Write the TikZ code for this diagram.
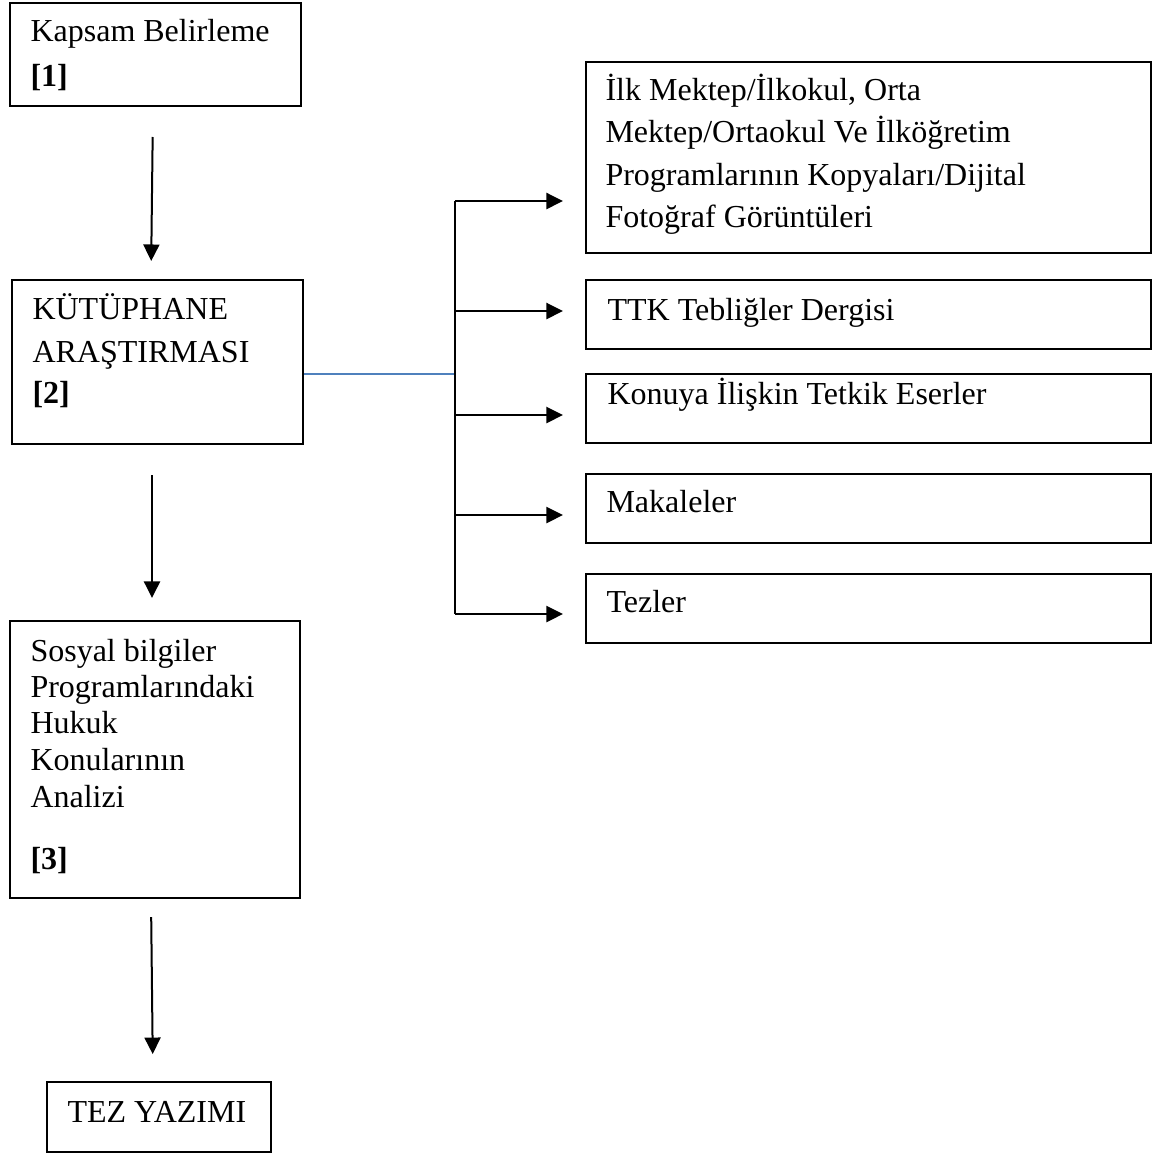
\documentclass[tikz,border=0pt]{standalone}
\usepackage{fontspec}
\setmainfont{Liberation Serif}
\usetikzlibrary{arrows.meta}
\definecolor{linkblue}{RGB}{79,129,189}
\begin{document}
\begin{tikzpicture}[x=0.375pt,y=-0.375pt,
  box/.style={draw,line width=0.75pt,rectangle,inner sep=0pt,anchor=north west},
  txt/.style={inner sep=0pt,anchor=base west,font=\fontsize{12}{14}\selectfont},
  arr/.style={draw,line width=0.75pt,-{Triangle[length=6.2pt,width=6pt]}},
  bus/.style={draw,line width=0.75pt},
  bluel/.style={draw,linkblue,line width=0.55pt}]
\useasboundingbox (0,0) rectangle (1157,1153);
% left column boxes
\node[box,minimum width=291*0.375pt,minimum height=103*0.375pt] (b1) at (9,2) {};
\node[box,minimum width=291*0.375pt,minimum height=164*0.375pt] (b2) at (11,279) {};
\node[box,minimum width=290*0.375pt,minimum height=277*0.375pt] (b3) at (9,620) {};
\node[box,minimum width=224*0.375pt,minimum height=70*0.375pt] (b4) at (46,1081) {};
% right column boxes
\node[box,minimum width=565*0.375pt,minimum height=191*0.375pt] (bA) at (585,61) {};
\node[box,minimum width=565*0.375pt,minimum height=69*0.375pt] (bB) at (585,279) {};
\node[box,minimum width=565*0.375pt,minimum height=69*0.375pt] (bC) at (585,373) {};
\node[box,minimum width=565*0.375pt,minimum height=69*0.375pt] (bD) at (585,473) {};
\node[box,minimum width=565*0.375pt,minimum height=69*0.375pt] (bE) at (585,573) {};
% texts
\node[txt] (t1a) at (30,42) {Kapsam Belirleme};
\node[txt] (t1b) at (30,86) {\textbf{[1]}};
\node[txt] (t2a) at (32,319) {KÜTÜPHANE};
\node[txt] (t2b) at (32,362) {ARAŞTIRMASI};
\node[txt] (t2c) at (32,403) {\textbf{[2]}};
\node[txt] (t3a) at (30,661) {Sosyal bilgiler};
\node[txt] (t3b) at (30,697) {Programlarındaki};
\node[txt] (t3c) at (30,733) {Hukuk};
\node[txt] (t3d) at (30,770) {Konularının};
\node[txt] (t3e) at (30,807) {Analizi};
\node[txt] (t3f) at (30,869) {\textbf{[3]}};
\node[txt] (t4a) at (67,1122) {TEZ YAZIMI};
\node[txt] (tAa) at (605,100) {İlk Mektep/İlkokul, Orta};
\node[txt] (tAb) at (605,142) {Mektep/Ortaokul Ve İlköğretim};
\node[txt] (tAc) at (605,185) {Programlarının Kopyaları/Dijital};
\node[txt] (tAd) at (605,227) {Fotoğraf Görüntüleri};
\node[txt] (tBa) at (607,320) {TTK Tebliğler Dergisi};
\node[txt] (tCa) at (607,404) {Konuya İlişkin Tetkik Eserler};
\node[txt] (tDa) at (606,512) {Makaleler};
\node[txt] (tEa) at (606,612) {Tezler};
% vertical arrows
\draw[arr,shorten <=11.25pt,shorten >=6.75pt] (b1.south -| 153,0) -- (b2.north -| 151,0);
\draw[arr,shorten <=11.25pt,shorten >=8.25pt] (b2.south -| 152,0) -- (b3.north -| 152,0);
\draw[arr,shorten <=6.75pt,shorten >=10.1pt] (b3.south -| 151,0) -- (b4.north -| 153,0);
% junction and branches
\coordinate (j) at (455,374);
\draw[bluel] (b2.east |- j) -- (j);
\draw[bus] (j |- 0,201) -- (j |- 0,614);
\draw[arr,shorten >=8.25pt] (j |- 0,201) -- (bA.west |- 0,201);
\draw[arr,shorten >=8.25pt] (j |- 0,311) -- (bB.west |- 0,311);
\draw[arr,shorten >=8.25pt] (j |- 0,415) -- (bC.west |- 0,415);
\draw[arr,shorten >=8.25pt] (j |- 0,515) -- (bD.west |- 0,515);
\draw[arr,shorten >=8.25pt] (j |- 0,614) -- (bE.west |- 0,614);
\end{tikzpicture}
\end{document}
